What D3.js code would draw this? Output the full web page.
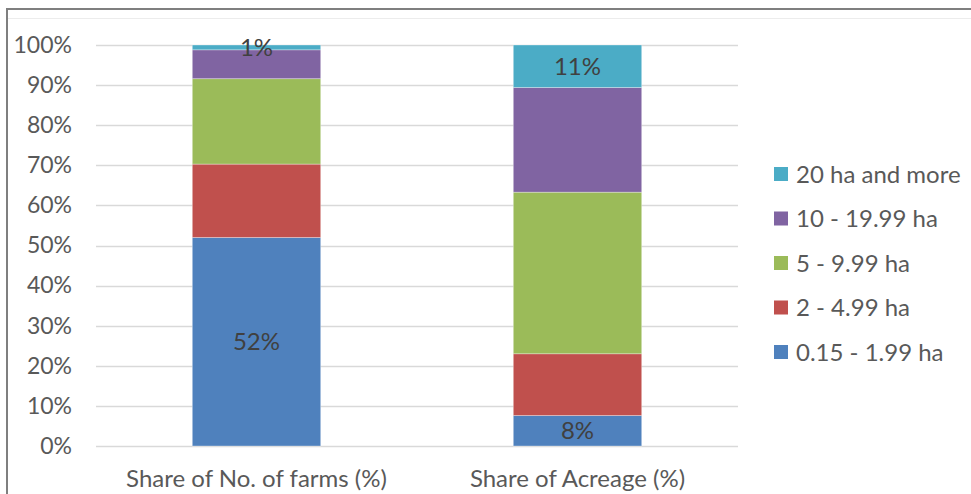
<!DOCTYPE html>
<html>
<head>
<meta charset="utf-8">
<script src="https://cdn.jsdelivr.net/npm/d3@7"></script>
<style>
  body { margin: 0; background: #fff; }
  text { font-family: Lato, "Open Sans", sans-serif; fill: #595959; }
</style>
</head>
<body>
<script>
// data
var categories = ["Share of No. of farms (%)", "Share of Acreage (%)"]
var sizeClasses = ["0.15 - 1.99 ha", "2 - 4.99 ha", "5 - 9.99 ha", "10 - 19.99 ha", "20 ha and more"]
var farmsShare   = [52.0, 18.3, 21.3, 7.2, 1.2]
var acreageShare = [7.6, 15.4, 40.3, 26.1, 10.6]
var barLabels = [["52%", "", "", "", "1%"], ["8%", "", "", "", "11%"]]
var yTicks = [0, 10, 20, 30, 40, 50, 60, 70, 80, 90, 100]
var colors = ["#4F81BD", "#C0504D", "#9BBB59", "#8064A2", "#4BACC6"]

var W = 971, H = 494
var plot = {left: 96, right: 738, top: 45, bottom: 446}

var svg = d3.select("body").append("svg")
    .attr("width", W).attr("height", H)

// chart frame
svg.append("line").attr("x1", 6).attr("x2", W).attr("y1", 9).attr("y2", 9)
    .attr("stroke", "#7f7f7f").attr("stroke-width", 2)
svg.append("line").attr("x1", 7).attr("x2", 7).attr("y1", 8).attr("y2", H)
    .attr("stroke", "#7f7f7f").attr("stroke-width", 2)
svg.append("line").attr("x1", 8).attr("x2", W).attr("y1", 18.5).attr("y2", 18.5)
    .attr("stroke", "#ececec").attr("stroke-width", 1)

var x = d3.scaleBand().domain(categories).range([plot.left, plot.right]).padding(0)
var barW = x.bandwidth() * 0.4

var y = d3.scaleLinear().domain([0, 100]).range([plot.bottom, plot.top])

// gridlines
svg.append("g").selectAll("line").data(yTicks).enter()
  .append("line")
    .attr("x1", plot.left).attr("x2", plot.right)
    .attr("y1", function(d){ return Math.round(y(d)) + 0.5 })
    .attr("y2", function(d){ return Math.round(y(d)) + 0.5 })
    .attr("stroke", "#d9d9d9").attr("stroke-width", 1.3)

// y axis labels
var yAxis = svg.append("g")
    .attr("transform", "translate(" + (plot.left - 24) + ",0)")
    .call(d3.axisLeft(y).tickValues(yTicks).tickSize(0).tickPadding(0)
      .tickFormat(function(d){ return d + "%" }))
yAxis.select(".domain").remove()
yAxis.selectAll("text").style("font-size", "23px").attr("fill", "#595959")
    .style("font-family", "Lato, sans-serif")

// stacked bars
var rows = categories.map(function(c, i){
  var r = {cat: c}
  var vals = i == 0 ? farmsShare : acreageShare
  sizeClasses.forEach(function(s, j){ r[s] = vals[j] })
  return r
})
var stack = d3.stack().keys(sizeClasses)(rows)

var layers = svg.append("g").selectAll("g").data(stack).enter()
  .append("g").attr("fill", function(d, i){ return colors[i] })

layers.selectAll("rect").data(function(d){ return d }).enter()
  .append("rect")
    .attr("x", function(d){ return x(d.data.cat) + (x.bandwidth() - barW) / 2 })
    .attr("width", barW)
    .attr("y", function(d){ return y(d[1]) })
    .attr("height", function(d){ return y(d[0]) - y(d[1]) })
    .attr("stroke", "#ffffff").attr("stroke-opacity", 0.4).attr("stroke-width", 0.8)

// data labels
layers.each(function(layer, j){
  d3.select(this).selectAll("text").data(layer).enter()
    .append("text")
      .attr("x", function(d){ return x(d.data.cat) + x.bandwidth() / 2 })
      .attr("y", function(d){ return y((d[0] + d[1]) / 2) })
      .attr("dy", "0.36em")
      .attr("text-anchor", "middle")
      .style("font-size", "24px")
      .style("fill", "#404040")
      .text(function(d, i){ return barLabels[i][j] })
})

// category axis
var xAxis = svg.append("g")
    .attr("transform", "translate(0," + plot.bottom + ")")
    .call(d3.axisBottom(x).tickSize(0).tickPadding(24))
xAxis.select(".domain").remove()
xAxis.selectAll("text").style("font-size", "24px").attr("fill", "#595959")
    .style("font-family", "Lato, sans-serif")

// legend, top item is the last series
var legend = svg.append("g").selectAll("g").data(sizeClasses.slice().reverse()).enter()
  .append("g")
    .attr("transform", function(d, i){ return "translate(774," + (174 + i * 44.5) + ")" })
legend.append("rect").attr("x", 0).attr("y", -7).attr("width", 14).attr("height", 14)
    .attr("fill", function(d){ return colors[sizeClasses.indexOf(d)] })
legend.append("text").attr("x", 22).attr("dy", "0.36em")
    .style("font-size", "24px").text(function(d){ return d })
</script>
</body>
</html>
